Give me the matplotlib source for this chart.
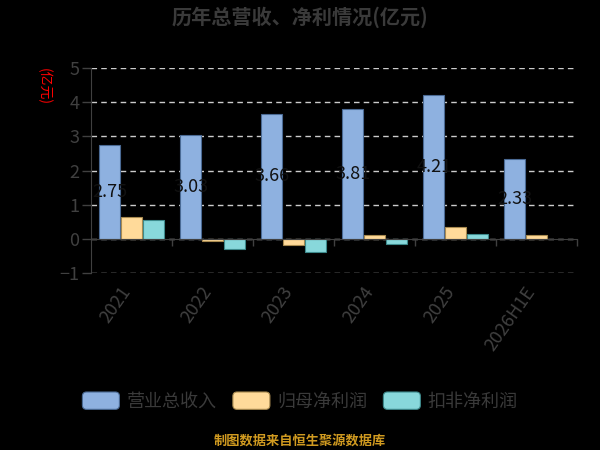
import numpy as np
import matplotlib
matplotlib.use('Agg')
from matplotlib import pyplot as plt
from matplotlib.patches import FancyBboxPatch, Patch
from matplotlib.legend_handler import HandlerPatch

plt.rcParams['font.family'] = ['Noto Sans CJK SC', 'DejaVu Sans']

years = ['2021', '2022', '2023', '2024', '2025', '2026H1E']
revenue = [2.75, 3.03, 3.66, 3.81, 4.21, 2.33]
net_profit = [0.64, -0.05, -0.19, 0.11, 0.35, 0.12]
deducted_profit = [0.55, -0.29, -0.37, -0.16, 0.14, np.nan]
series_names = ['营业总收入', '归母净利润', '扣非净利润']

colors = ['#8eb1e0', '#ffda9a', '#88d8db']
edges = ['#4a6a94', '#a88a50', '#3e8a8c']
text_gray = '#404040'


def rounded_patch(legend, orig_handle, xdescent, ydescent, width, height, fontsize):
    return FancyBboxPatch((-xdescent, -ydescent), width, height,
                          boxstyle='round,pad=0,rounding_size=3')


fig = plt.figure(figsize=(6, 4.5), dpi=100, facecolor='black')
ax = fig.add_axes([0.152, 0.393, 0.81, 0.456])
ax.set_facecolor('black')

x = np.arange(len(years))
w = 0.26
for i, (vals, name) in enumerate(zip([revenue, net_profit, deducted_profit], series_names)):
    ax.bar(x + (i - 1) * (w + 0.01), vals, width=w, color=colors[i], edgecolor=edges[i],
           linewidth=0.8, label=name, zorder=3)

# value labels sit in the middle of the revenue bars
for xi, v in zip(x, revenue):
    ax.text(xi - (w + 0.01), v / 2, '{:.2f}'.format(v), ha='center', va='center',
            fontsize=13, color='#111111', zorder=4)

ax.set_xlim(-0.5, len(years) - 0.5)
ax.set_ylim(-1, 5)
ax.set_yticks(range(-1, 6))
for yv in range(-1, 6):
    ax.axhline(yv, color='#cccccc', linestyle=(0, (4, 3)), linewidth=1, zorder=1)

for s in ['top', 'right']:
    ax.spines[s].set_visible(False)
ax.spines['left'].set_color(text_gray)
ax.spines['bottom'].set_color(text_gray)
ax.spines['bottom'].set_position(('data', 0))
ax.spines['bottom'].set_zorder(5)

ax.tick_params(axis='y', colors=text_gray, labelsize=13, length=6.5, width=1, pad=2)
ax.set_xticks(x + 0.5, minor=True)
ax.set_xticks(x)
ax.set_xticklabels([])
ax.tick_params(axis='x', which='major', length=0)
ax.tick_params(axis='x', which='minor', length=5, direction='out', color=text_gray, width=1)

trans = ax.get_xaxis_transform()
for xi, lab in zip(x, years):
    ax.text(xi + 0.03, -0.05, lab, transform=trans, rotation=55, ha='right', va='top',
            fontsize=13, color=text_gray)

fig.text(0.073, 0.807, '(亿元)', rotation=270, color='red', fontsize=10, ha='center', va='center')
fig.text(0.5, 0.961, '历年总营收、净利情况(亿元)', ha='center', va='center', fontsize=14.5,
         fontweight='bold', color='#3a3a3a')

handles = [Patch(facecolor=colors[i], edgecolor=edges[i], linewidth=0.8, label=series_names[i])
           for i in range(3)]
leg = fig.legend(handles=handles, loc='center', bbox_to_anchor=(0.5, 0.108), ncol=3, frameon=False,
                 fontsize=13, handlelength=2.05, handleheight=1.1, columnspacing=0.9, handletextpad=0.4,
                 handler_map={Patch: HandlerPatch(patch_func=rounded_patch)})
for t in leg.get_texts():
    t.set_color('#3a3a3a')

fig.text(0.5, 0.021, '制图数据来自恒生聚源数据库', ha='center', va='center', fontsize=9.5,
         fontweight='bold', color='#d09a20')

fig.savefig('out.png', dpi=100, facecolor='black')
